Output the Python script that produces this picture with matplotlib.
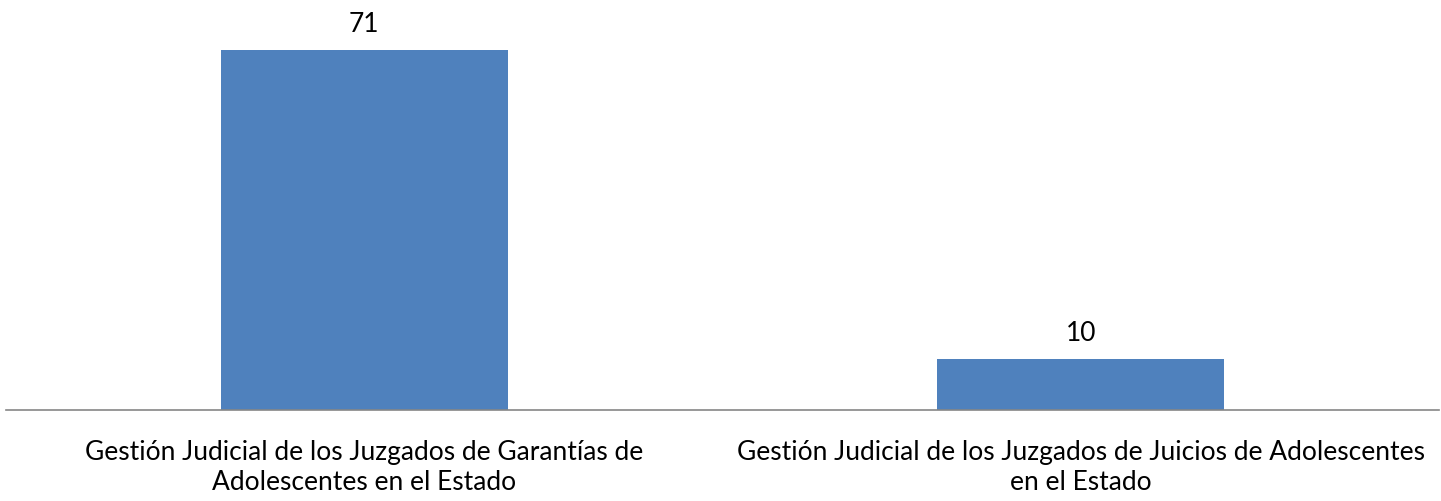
import matplotlib.pyplot as plt

categories = [
    "Gestión Judicial de los Juzgados de Garantías de\nAdolescentes en el Estado",
    "Gestión Judicial de los Juzgados de Juicios de Adolescentes\nen el Estado",
]
values = [71, 10]

plt.rcParams["font.family"] = ["Lato", "DejaVu Sans"]

fig = plt.figure(figsize=(14.41, 5.02), dpi=100)
ax = fig.add_axes([6 / 1441, 91 / 502, 1433 / 1441, 411 / 502])

x = range(len(values))
bars = ax.bar(x, values, width=0.4, color="#4F81BD")
for b, v in zip(bars, values):
    ax.text(b.get_x() + b.get_width() / 2, v + 5.2, str(v),
            ha="center", va="center", fontsize=19, color="black")

ax.set_xlim(-0.5, 1.5)
ax.set_ylim(0, 81)
ax.set_xticks(list(x))
ax.set_xticklabels(categories, fontsize=19, linespacing=1.25)
ax.tick_params(axis="x", length=0, pad=21)
ax.set_yticks([])
for side in ["top", "right", "left"]:
    ax.spines[side].set_visible(False)
ax.spines["bottom"].set_color("#868686")
ax.spines["bottom"].set_linewidth(1.2)

fig.savefig("out.png", dpi=100)
